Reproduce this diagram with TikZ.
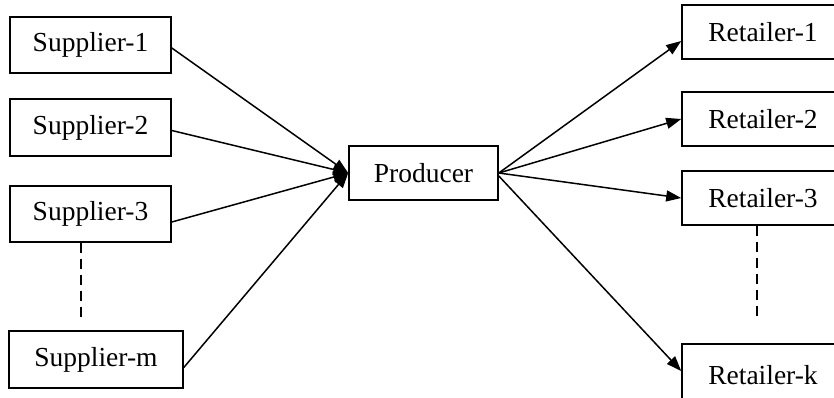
\documentclass[tikz,border=0pt]{standalone}
\usepackage{fontspec}
\setmainfont{Liberation Serif}
\usetikzlibrary{arrows.meta}
\begin{document}
\begin{tikzpicture}[x=1pt,y=-1pt,
  box/.style={draw=black,line width=1.6pt,rectangle,inner sep=0pt,font=\fontsize{27.5}{30}\selectfont},
  conn/.style={line width=1.5pt,-{Triangle[length=15pt,width=11pt]}},
  dots/.style={line width=1.4pt,dash pattern=on 10pt off 6pt}]
\useasboundingbox (0,0) rectangle (834,398);
\clip (0,0) rectangle (834,398);
% suppliers
\node[box,minimum width=161pt,minimum height=56pt] (s1) at (90.5,45) {Supplier-1};
\node[box,minimum width=161pt,minimum height=57pt] (s2) at (90.5,127.5) {Supplier-2};
\node[box,minimum width=161pt,minimum height=56pt] (s3) at (90.5,214) {Supplier-3};
\node[box,minimum width=174pt,minimum height=57pt] (sm) at (96,359.5) {Supplier-m};
% producer
\node[box,minimum width=149pt,minimum height=54pt] (p) at (423.5,173) {Producer};
% retailers
\node[box,minimum width=162pt,minimum height=54pt] (r1) at (763,32) {Retailer-1};
\node[box,minimum width=162pt,minimum height=54pt] (r2) at (763,119) {Retailer-2};
\node[box,minimum width=162pt,minimum height=54pt] (r3) at (763,198) {Retailer-3};
\node[box,minimum width=162pt,minimum height=62pt] (rk) at (763,375) {Retailer-k};
% dashed continuation
\coordinate (sd) at (81,318);
\coordinate (rd) at (757,318);
\draw[dots] (s3.south -| sd) -- (sd);
\draw[dots] (r3.south -| rd) -- (rd);
% supplier arrows
\draw[conn] ([yshift=-3pt]s1.east) -- (p.west);
\draw[conn] ([yshift=-3pt]s2.east) -- (p.west);
\draw[conn] ([yshift=-8pt]s3.east) -- (p.west);
\draw[conn] ([yshift=-8pt]sm.east) -- (p.west);
% retailer arrows
\draw[conn] (p.east) -- ([yshift=-9pt]r1.west);
\draw[conn] (p.east) -- (r2.west);
\draw[conn] (p.east) -- (r3.west);
\draw[conn] ([yshift=-3pt]p.east) -- ([yshift=4pt]rk.west);
\end{tikzpicture}
\end{document}
